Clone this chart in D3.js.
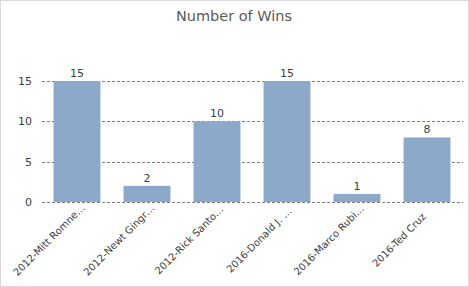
<!DOCTYPE html>
<html>
<head>
<meta charset="utf-8">
<script src="https://cdn.jsdelivr.net/npm/d3@7"></script>
<style>
  body { margin: 0; background: #fff; }
  svg { display: block; font-family: "DejaVu Sans", Verdana, sans-serif; }
</style>
</head>
<body>
<svg width="469" height="287"></svg>
<script>
// chart data
var categories = ["2012-Mitt Romne…", "2012-Newt Gingr…", "2012-Rick Santo…", "2016-Donald J. …", "2016-Marco Rubi…", "2016-Ted Cruz"]
var wins = [15, 2, 10, 15, 1, 8]
var yTicks = [0, 5, 10, 15]

var svg = d3.select("svg"),
    width = +svg.attr("width"),
    height = +svg.attr("height")

var plotLeft = 42, plotRight = 462, plotTop = 81, plotBottom = 202

// light frame round the chart
svg.append("rect")
    .attr("x", 0.5).attr("y", 0.5)
    .attr("width", width - 1).attr("height", height - 1)
    .attr("fill", "#fff").attr("stroke", "#d9d9d9")

svg.append("text")
    .attr("x", 234).attr("y", 21)
    .attr("text-anchor", "middle")
    .attr("font-size", 14.5)
    .attr("fill", "#595959")
    .text("Number of Wins")

var x = d3.scaleBand().domain(categories).range([plotLeft, plotRight]).paddingInner(0.33).paddingOuter(0.165)
var y = d3.scaleLinear().domain([0, 15]).range([plotBottom, plotTop])

// grid
svg.append("g").selectAll("line")
    .data(yTicks)
    .enter().append("line")
    .attr("x1", plotLeft).attr("x2", plotRight + 1)
    .attr("y1", function(d){ return Math.round(y(d)) + 0.5 })
    .attr("y2", function(d){ return Math.round(y(d)) + 0.5 })
    .attr("stroke", "#7f7f7f")
    .attr("stroke-dasharray", "3,2")

var yAxis = svg.append("g")
    .attr("transform", "translate(" + plotLeft + ",0)")
    .call(d3.axisLeft(y).tickValues(yTicks).tickSize(0).tickPadding(10))
yAxis.select(".domain").remove()
yAxis.selectAll("text").attr("font-size", 11).attr("fill", "#404040").attr("font-family", "DejaVu Sans")

svg.selectAll(".bar")
    .data(wins)
    .enter().append("rect")
    .attr("class", "bar")
    .attr("x", function(d, i){ return x(categories[i]) })
    .attr("y", function(d){ return y(d) })
    .attr("width", x.bandwidth())
    .attr("height", function(d){ return plotBottom - y(d) })
    .attr("fill", "#8da9c9")

svg.selectAll(".val")
    .data(wins)
    .enter().append("text")
    .attr("class", "val")
    .attr("x", function(d, i){ return x(categories[i]) + x.bandwidth() / 2 })
    .attr("y", function(d){ return y(d) - 4 })
    .attr("text-anchor", "middle")
    .attr("font-size", 11)
    .attr("fill", "#404040")
    .text(function(d){ return d })

// rotated category labels, centred on a line below the axis
svg.selectAll(".cat")
    .data(categories)
    .enter().append("text")
    .attr("class", "cat")
    .attr("transform", function(d){
        var cx = x(d) + x.bandwidth() / 2 - 28
        return "translate(" + cx + ",240) rotate(-45)"
    })
    .attr("text-anchor", "middle")
    .attr("dy", "0.35em")
    .attr("font-size", 10)
    .attr("fill", "#404040")
    .text(function(d){ return d })
</script>
</body>
</html>
